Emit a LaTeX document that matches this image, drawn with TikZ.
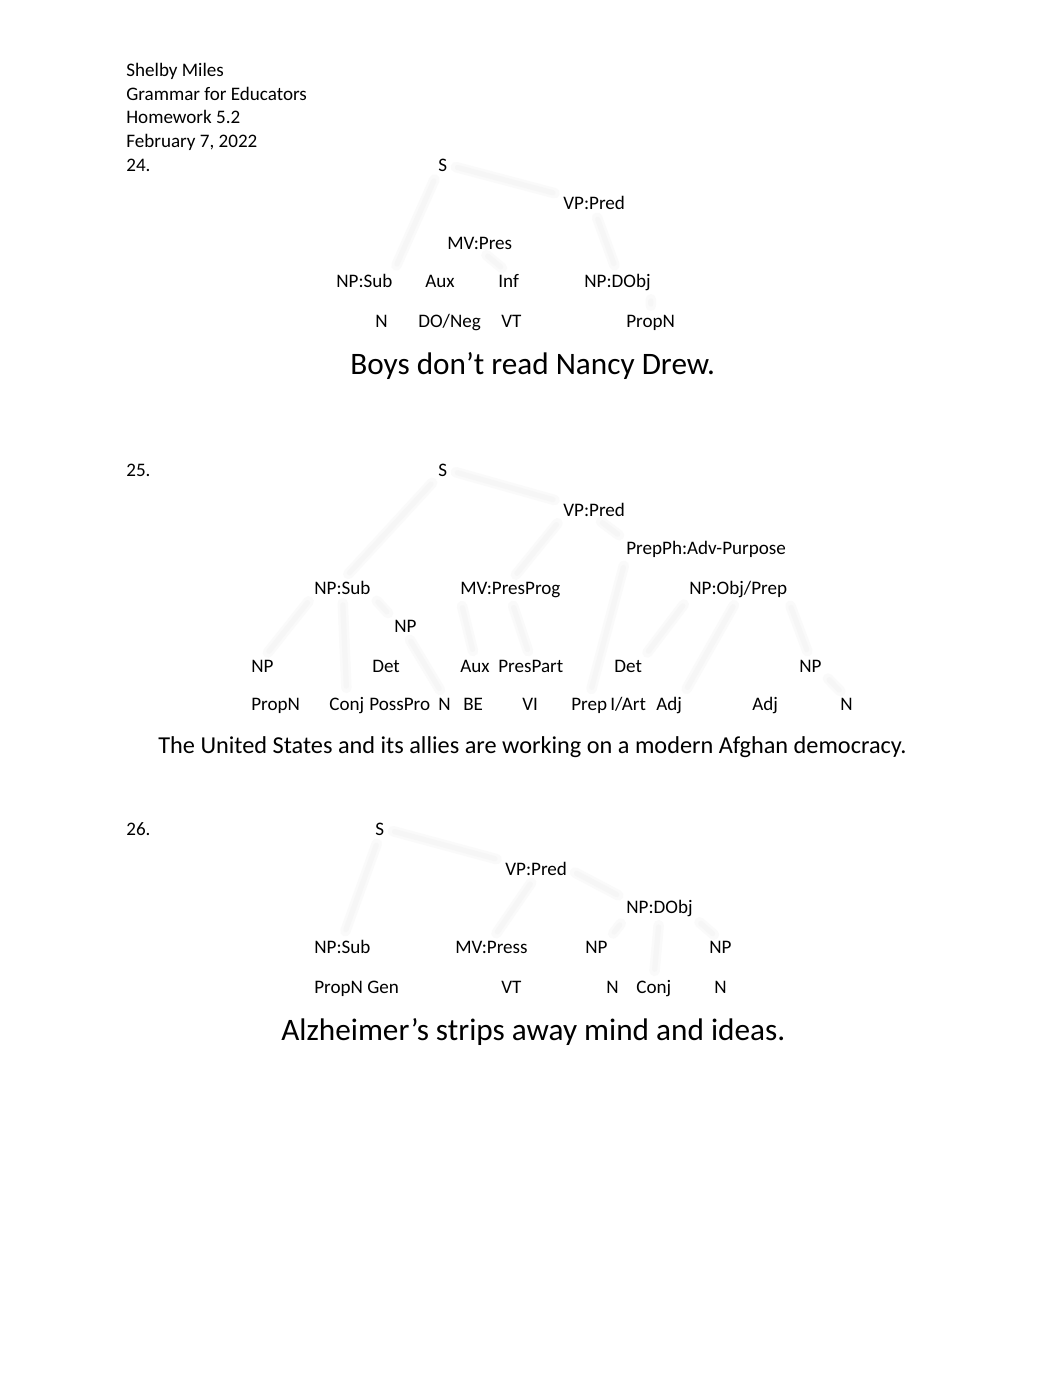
\documentclass[tikz,border=0pt]{standalone}
\usepackage{fontspec}
\usetikzlibrary{backgrounds}
\setmainfont{Carlito}
\begin{document}
\begin{tikzpicture}[x=0.57627pt,y=-0.57627pt,
  lbl/.style={anchor=base west,inner sep=0pt,font=\fontsize{11}{13}\selectfont},
  big/.style={anchor=base west,inner sep=0pt,font=\fontsize{18}{22}\selectfont},
  mid/.style={anchor=base west,inner sep=0pt,font=\fontsize{14}{17}\selectfont},
  faint/.style={draw=black!2,line width=6pt,line cap=round,shorten <=5pt,shorten >=5pt,
    postaction={draw=black!3.5,line width=3pt,shorten <=6pt,shorten >=6pt}}]
\useasboundingbox (0,0) rectangle (1062,1376);
\begin{scope}[on background layer]
\fill[white] (0,0) rectangle (1062,1376);
\end{scope}
% header
\node[lbl] (h1) at (126,76) {Shelby Miles};
\node[lbl] (h2) at (126,100) {Grammar for Educators};
\node[lbl] (h3) at (126,123) {Homework 5.2};
\node[lbl] (h4) at (126,147) {February 7, 2022};
% ---------------- 24 ----------------
\node[lbl] (n24) at (126,171) {24.};
\node[lbl] (aS) at (438,171) {S};
\node[lbl] (aVP) at (563,209) {VP:Pred};
\node[lbl] (aMV) at (447,249) {MV:Pres};
\node[lbl] (aNPs) at (336,287) {NP:Sub};
\node[lbl] (aAux) at (425,287) {Aux};
\node[lbl] (aInf) at (498,287) {Inf};
\node[lbl] (aNPo) at (584,287) {NP:DObj};
\node[lbl] (aN) at (375,327) {N};
\node[lbl] (aDO) at (418,327) {DO/Neg};
\node[lbl] (aVT) at (501,327) {VT};
\node[lbl] (aPN) at (626,327) {PropN};
\node[big] (aSent) at (350,374) {Boys don’t read Nancy Drew.};
% ---------------- 25 ----------------
\node[lbl] (n25) at (126,476) {25.};
\node[lbl] (bS) at (438,476) {S};
\node[lbl] (bVP) at (563,516) {VP:Pred};
\node[lbl] (bPP) at (626,554) {PrepPh:Adv-Purpose};
\node[lbl] (bNPs) at (314,594) {NP:Sub};
\node[lbl] (bMV) at (460,594) {MV:PresProg};
\node[lbl] (bNPo) at (689,594) {NP:Obj/Prep};
\node[lbl] (bNPm) at (394,632) {NP};
\node[lbl] (bNPl) at (251,672) {NP};
\node[lbl] (bDet1) at (372,672) {Det};
\node[lbl] (bAux) at (460,672) {Aux};
\node[lbl] (bPart) at (498,672) {PresPart};
\node[lbl] (bDet2) at (614,672) {Det};
\node[lbl] (bNPr) at (799,672) {NP};
\node[lbl] (bPN) at (251,710) {PropN};
\node[lbl] (bConj) at (329,710) {Conj};
\node[lbl] (bPoss) at (369,710) {PossPro};
\node[lbl] (bN1) at (438,710) {N};
\node[lbl] (bBE) at (463,710) {BE};
\node[lbl] (bVI) at (522,710) {VI};
\node[lbl] (bPrep) at (571,710) {Prep};
\node[lbl] (bArt) at (610,710) {I/Art};
\node[lbl] (bAdj1) at (656,710) {Adj};
\node[lbl] (bAdj2) at (752,710) {Adj};
\node[lbl] (bN2) at (840,710) {N};
\node[mid] (bSent) at (158,753) {The United States and its allies are working on a modern Afghan democracy.};
% ---------------- 26 ----------------
\node[lbl] (n26) at (126,835) {26.};
\node[lbl] (cS) at (375,835) {S};
\node[lbl] (cVP) at (505,875) {VP:Pred};
\node[lbl] (cNPo) at (626,913) {NP:DObj};
\node[lbl] (cNPs) at (314,953) {NP:Sub};
\node[lbl] (cMV) at (455,953) {MV:Press};
\node[lbl] (cNP1) at (585,953) {NP};
\node[lbl] (cNP2) at (709,953) {NP};
\node[lbl] (cPN) at (314,993) {PropN Gen};
\node[lbl] (cVT) at (501,993) {VT};
\node[lbl] (cN1) at (606,993) {N};
\node[lbl] (cConj) at (636,993) {Conj};
\node[lbl] (cN2) at (714,993) {N};
\node[big] (cSent) at (281,1040) {Alzheimer’s strips away mind and ideas.};
% ---------------- faint connectors ----------------
\begin{scope}[on background layer]
\draw[faint] (aS.south west) -- (aNPs.north east);
\draw[faint] (aS.east) -- (aVP.north west);
\draw[faint] (aVP.south) -- (aNPo.north);
\draw[faint] (aNPo.south east) -- (aPN.north);
\draw[faint] (aMV.south) -- (aInf.north);
\draw[faint] (bS.south west) -- (bNPs.north);
\draw[faint] (bS.east) -- (bVP.north west);
\draw[faint] (bVP.south west) -- (bMV.north);
\draw[faint] (bVP.south) -- (bPP.north west);
\draw[faint] (bNPs.south west) -- (bNPl.north);
\draw[faint] (bNPs.south) -- (bConj.north);
\draw[faint] (bNPs.south east) -- (bNPm.north west);
\draw[faint] (bNPm.south) -- (bN1.north);
\draw[faint] (bMV.south west) -- (bAux.north);
\draw[faint] (bMV.south) -- (bPart.north);
\draw[faint] (bPP.south west) -- (bPrep.north);
\draw[faint] (bNPo.south west) -- (bDet2.north east);
\draw[faint] (bNPo.south) -- (bAdj1.north east);
\draw[faint] (bNPo.south east) -- (bNPr.north);
\draw[faint] (bNPr.south east) -- (bN2.north);
\draw[faint] (cS.south) -- (cNPs.north);
\draw[faint] (cS.east) -- (cVP.north west);
\draw[faint] (cVP.south) -- (cMV.north);
\draw[faint] (cVP.east) -- (cNPo.north west);
\draw[faint] (cNPo.south west) -- (cNP1.north east);
\draw[faint] (cNPo.south) -- (cConj.north);
\draw[faint] (cNPo.south east) -- (cNP2.north);
\end{scope}
\end{tikzpicture}
\end{document}
